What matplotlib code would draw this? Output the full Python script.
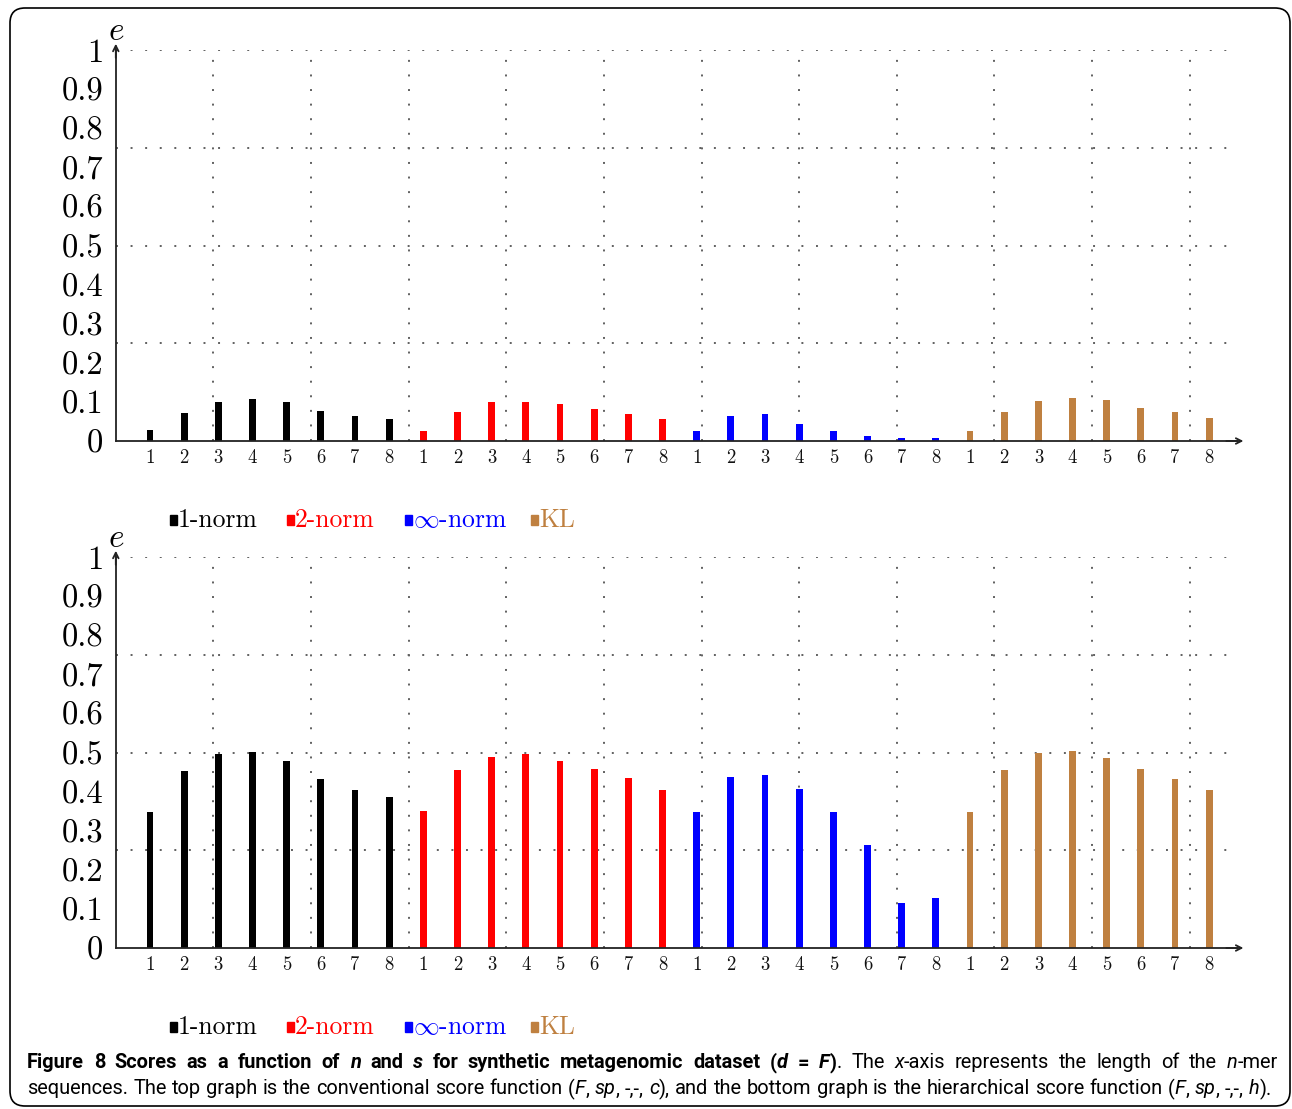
import matplotlib.pyplot as plt
from matplotlib.patches import Rectangle, FancyBboxPatch
import numpy as np

W, H = 1292, 1109

# ---- data ----
n_labels = [1, 2, 3, 4, 5, 6, 7, 8]
series_names = ["1-norm", "2-norm", r"$\infty$-norm", "KL"]
series_colors = ["black", "#ff0000", "#0000ff", "#bf8040"]

# top graph: conventional score function (F, sp, -,-, c)
top_1norm = [0.027, 0.072, 0.099, 0.108, 0.101, 0.078, 0.064, 0.055]
top_2norm = [0.025, 0.073, 0.099, 0.099, 0.094, 0.083, 0.069, 0.055]
top_infnorm = [0.026, 0.064, 0.068, 0.043, 0.025, 0.014, 0.008, 0.007]
top_kl = [0.025, 0.075, 0.103, 0.111, 0.105, 0.085, 0.073, 0.058]

# bottom graph: hierarchical score function (F, sp, -,-, h)
bot_1norm = [0.349, 0.453, 0.495, 0.502, 0.478, 0.432, 0.405, 0.387]
bot_2norm = [0.351, 0.456, 0.489, 0.497, 0.478, 0.459, 0.434, 0.404]
bot_infnorm = [0.349, 0.437, 0.442, 0.406, 0.349, 0.264, 0.114, 0.127]
bot_kl = [0.349, 0.454, 0.499, 0.505, 0.487, 0.459, 0.432, 0.405]

ytick_vals = [0, 0.1, 0.2, 0.3, 0.4, 0.5, 0.6, 0.7, 0.8, 0.9, 1]
ytick_labels = ["0", "0.1", "0.2", "0.3", "0.4", "0.5", "0.6", "0.7", "0.8", "0.9", "1"]

fig = plt.figure(figsize=(W / 100, H / 100), dpi=100)

XMAX = 32.8
UNIT = 34.17  # pixels per x unit
X0 = 115.8


def draw_panel(ax, groups):
    xs_all, lbl_all = [], []
    for g, (vals, col) in enumerate(zip(groups, series_colors)):
        xs = [g * len(n_labels) + n for n in n_labels]
        ax.bar(xs, vals, width=0.2, color=col, zorder=3, linewidth=0)
        xs_all += xs
        lbl_all += [str(n) for n in n_labels]

    ax.set_xlim(0, XMAX)
    ax.set_ylim(0, 1)
    grid_kw = dict(color="#606060", lw=1.4, linestyle=(0, (1.0, 6.5)), zorder=1)
    for k in range(1, 12):
        ax.axvline(k * 20 / 7, **grid_kw)
    for yv in [0.25, 0.5, 0.75, 1.0]:
        ax.axhline(yv, **grid_kw)

    for s in ["top", "right"]:
        ax.spines[s].set_visible(False)
    for s in ["left", "bottom"]:
        ax.spines[s].set_linewidth(1.3)
        ax.spines[s].set_color("#222222")
        ax.spines[s].set_zorder(4)

    ax.set_yticks(ytick_vals)
    ax.set_yticklabels(ytick_labels, fontfamily="cmr10", fontsize=23.5)
    ax.set_xticks(xs_all)
    ax.set_xticklabels(lbl_all, fontfamily="cmr10", fontsize=13.5, color="#111111")
    ax.tick_params(axis="y", length=0, pad=9)
    ax.tick_params(axis="x", length=0, pad=6)

    # arrow heads at ends of axes
    ax.annotate("", xy=(XMAX + 0.2, 0), xytext=(XMAX - 0.3, 0),
                arrowprops=dict(arrowstyle="->", lw=1.3, color="#222222",
                                shrinkA=0, shrinkB=0),
                annotation_clip=False)
    ax.annotate("", xy=(0, 1.016), xytext=(0, 0.98),
                arrowprops=dict(arrowstyle="->", lw=1.3, color="#222222",
                                shrinkA=0, shrinkB=0),
                annotation_clip=False)
    ax.text(0, 1.051, "$e$", math_fontfamily="cm", fontsize=24,
            ha="center", va="center")


def draw_legend(y_px):
    sq_x = [170, 287, 405, 531]
    for x, name, col in zip(sq_x, series_names, series_colors):
        fig.patches.append(Rectangle((x / W, 1 - (y_px + 5) / H), 7 / W, 10 / H,
                                     transform=fig.transFigure, color=col))
        fig.text((x + 8) / W, 1 - y_px / H, name, fontfamily="cmr10",
                 math_fontfamily="cm", fontsize=18.5, color=col,
                 ha="left", va="center")


ax_top = fig.add_axes([X0 / W, 1 - 441 / H, XMAX * UNIT / W, 391 / H])
draw_panel(ax_top, [top_1norm, top_2norm, top_infnorm, top_kl])
ax_bot = fig.add_axes([X0 / W, 1 - 948 / H, XMAX * UNIT / W, 391 / H])
draw_panel(ax_bot, [bot_1norm, bot_2norm, bot_infnorm, bot_kl])

draw_legend(520)
draw_legend(1027)

# rounded frame
fig.patches.append(FancyBboxPatch((0.1, 0.03), 12.8, 10.98,
                                  boxstyle="round,pad=0,rounding_size=0.15",
                                  transform=fig.dpi_scale_trans, fill=False,
                                  lw=1.2, edgecolor="black"))

# ---- caption with mixed styles ----
cap_font = "Roboto"
line1 = [("Figure 8 Scores as a function of ", "b"), ("n", "bi"), (" and ", "b"),
         ("s", "bi"), (" for synthetic metagenomic dataset (", "b"), ("d", "bi"),
         (" = ", "b"), ("F", "bi"), (")", "b"), (". The ", "r"), ("x", "i"),
         ("-axis represents the length of the ", "r"), ("n", "i"), ("-mer", "r")]
line2 = [("sequences. The top graph is the conventional score function (", "r"),
         ("F", "i"), (", ", "r"), ("sp", "i"), (", -,-, ", "r"), ("c", "i"),
         ("), and the bottom graph is the hierarchical score function (", "r"),
         ("F", "i"), (", ", "r"), ("sp", "i"), (", -,-, ", "r"), ("h", "i"), (").", "r")]

renderer = fig.canvas.get_renderer()


def style_kw(st, size):
    return dict(fontfamily=cap_font, fontsize=size,
                fontweight="bold" if "b" in st else "normal",
                fontstyle="italic" if "i" in st else "normal")


def run_width(txt, st, size):
    t1 = fig.text(0, 0, "|" + txt + "|", **style_kw(st, size))
    t2 = fig.text(0, 0, "||", **style_kw(st, size))
    w = t1.get_window_extent(renderer).width - t2.get_window_extent(renderer).width
    t1.remove()
    t2.remove()
    return w


def line_width(runs, size):
    return sum(run_width(t, s, size) for t, s in runs)


base = 10
cap_size = base * min(1251 / line_width(line1, base), 1245 / line_width(line2, base))


def draw_runs(runs, x0, y_px, size, target):
    n_spaces = sum(t.count(" ") for t, _ in runs)
    extra = (target - line_width(runs, size)) / max(n_spaces, 1)
    x = x0
    for txt, st in runs:
        parts = txt.split(" ")
        sp_w = run_width(" ", st, size)
        for i, part in enumerate(parts):
            if part:
                fig.text(x / W, 1 - y_px / H, part, ha="left", va="center",
                         **style_kw(st, size))
                x += run_width(part, st, size)
            if i < len(parts) - 1:
                x += sp_w + extra


draw_runs(line1, 27, 1063, cap_size, 1251)
draw_runs(line2, 27, 1089, cap_size, 1245)

fig.savefig("out.png", dpi=100)
